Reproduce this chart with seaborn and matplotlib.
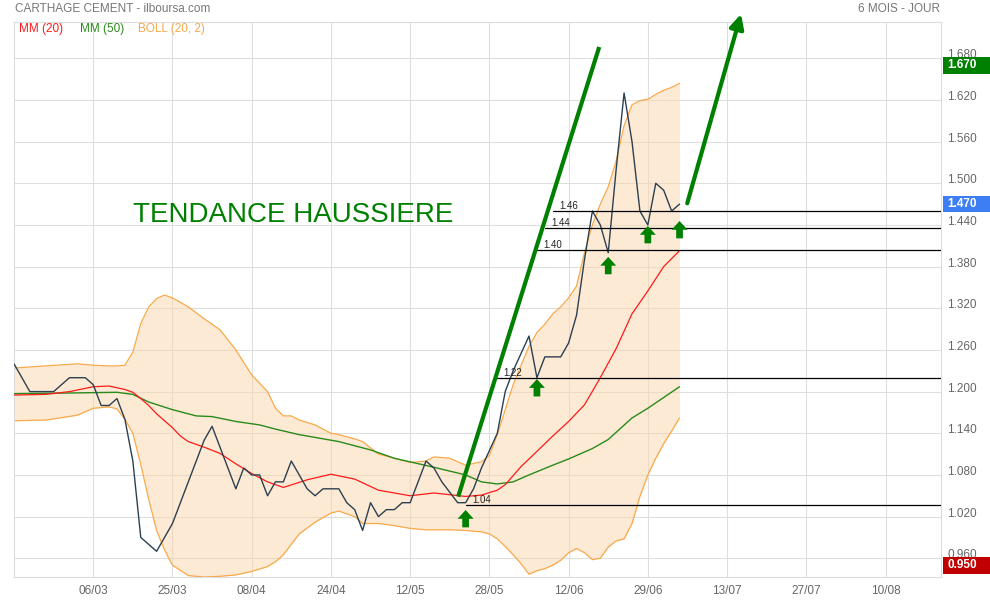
import matplotlib
matplotlib.use('Agg')
import numpy as np
import pandas as pd
import matplotlib.pyplot as plt
import matplotlib.transforms as mtransforms
from matplotlib.patches import Rectangle
import seaborn as sns

# cours de cloture, une valeur par seance
close = [1.24, 1.22, 1.20, 1.20, 1.20, 1.20, 1.21, 1.22, 1.22, 1.22,
         1.21, 1.18, 1.18, 1.19, 1.16, 1.10, 0.99, 0.98, 0.97, 0.99,
         1.01, 1.04, 1.07, 1.10, 1.13, 1.15, 1.12, 1.09, 1.06, 1.09,
         1.08, 1.08, 1.05, 1.07, 1.07, 1.10, 1.08, 1.06, 1.05, 1.06,
         1.06, 1.06, 1.04, 1.03, 1.00, 1.04, 1.02, 1.03, 1.03, 1.04,
         1.04, 1.07, 1.10, 1.09, 1.07, 1.055, 1.04, 1.04, 1.06, 1.09,
         1.115, 1.14, 1.20, 1.23, 1.255, 1.28, 1.22, 1.25, 1.25, 1.25,
         1.27, 1.31, 1.39, 1.46, 1.44, 1.40, 1.52, 1.63, 1.56, 1.46,
         1.44, 1.50, 1.49, 1.46, 1.47]

# MM(20)
mm20_days = [0, 4, 7, 10, 12, 14, 15, 16, 17, 18, 19, 20, 21, 22, 24, 26, 28, 30, 32, 34,
             37, 40, 43, 46, 50, 53, 57, 59, 61, 62, 64, 66, 68, 70, 72, 74, 76, 78, 80, 82, 84]
mm20 = [1.195, 1.196, 1.200, 1.207, 1.208, 1.203, 1.199, 1.190, 1.180, 1.168,
        1.158, 1.148, 1.136, 1.128, 1.120, 1.111, 1.096, 1.082, 1.070, 1.062,
        1.073, 1.081, 1.074, 1.058, 1.050, 1.054, 1.049, 1.051, 1.058, 1.066,
        1.092, 1.114, 1.136, 1.157, 1.181, 1.220, 1.262, 1.312, 1.345, 1.380, 1.403]

# MM(50)
mm50_days = [0, 7, 13, 15, 17, 20, 23, 25, 28, 31, 33, 36, 41, 45, 48, 53, 57, 59, 61, 63,
             65, 68, 70, 73, 75, 78, 80, 84]
mm50 = [1.197, 1.198, 1.199, 1.196, 1.185, 1.174, 1.165, 1.164, 1.157, 1.152,
        1.146, 1.138, 1.128, 1.116, 1.104, 1.091, 1.080, 1.070, 1.067, 1.070,
        1.080, 1.094, 1.103, 1.118, 1.131, 1.162, 1.176, 1.207]

# bandes de Bollinger (20, 2)
boll_days = [0, 4, 8, 10, 12, 13, 14, 15, 16, 17, 18, 19, 20, 22, 24, 26, 28, 30, 32, 33,
             34, 35, 36, 38, 40, 41, 43, 44, 46, 48, 50, 52, 53, 55, 57, 59, 60, 61, 62, 63,
             64, 65, 66, 67, 68, 69, 70, 71, 72, 73, 74, 75, 76, 77, 78, 79, 80, 81, 82, 83, 84]
boll_up = [1.234, 1.237, 1.240, 1.238, 1.237, 1.237, 1.238, 1.257, 1.298, 1.322,
           1.334, 1.339, 1.335, 1.322, 1.305, 1.289, 1.260, 1.224, 1.200, 1.176,
           1.165, 1.165, 1.159, 1.152, 1.140, 1.138, 1.132, 1.128, 1.110, 1.104,
           1.098, 1.100, 1.106, 1.104, 1.094, 1.099, 1.108, 1.138, 1.174, 1.210,
           1.238, 1.265, 1.285, 1.297, 1.312, 1.322, 1.335, 1.352, 1.400, 1.440,
           1.470, 1.495, 1.532, 1.583, 1.613, 1.619, 1.621, 1.628, 1.634, 1.638, 1.644]
boll_low = [1.158, 1.159, 1.166, 1.176, 1.178, 1.175, 1.160, 1.140, 1.095, 1.045,
            1.000, 0.972, 0.950, 0.935, 0.933, 0.934, 0.936, 0.941, 0.948, 0.955,
            0.965, 0.980, 0.995, 1.012, 1.025, 1.028, 1.020, 1.010, 1.010, 1.007,
            1.003, 1.001, 1.001, 1.001, 1.000, 0.998, 0.995, 0.988, 0.977, 0.965,
            0.952, 0.937, 0.942, 0.945, 0.950, 0.957, 0.968, 0.974, 0.968, 0.958,
            0.960, 0.976, 0.985, 0.988, 1.010, 1.049, 1.080, 1.104, 1.125, 1.143, 1.162]

tick_days = [10, 20, 30, 40, 50, 60, 70, 80, 90, 100, 110]
tick_labels = ['06/03', '25/03', '08/04', '24/04', '12/05', '28/05',
               '12/06', '29/06', '13/07', '27/07', '10/08']
y_ticks = [0.96, 1.02, 1.08, 1.14, 1.20, 1.26, 1.32, 1.38, 1.44, 1.50, 1.56, 1.62, 1.68]

# supports traces a la main
support_labels = ['1.04', '1.22', '1.40', '1.44', '1.46']
support_vals = [1.037, 1.219, 1.4035, 1.435, 1.460]
support_start = [57, 61, 66, 67, 68]

# fleches d'achat (pointe)
buy_days = [57, 66, 75, 80, 84]
buy_tips = [1.0295, 1.218, 1.394, 1.4385, 1.4457]

# droites de tendance
trend1_days = [56.06, 73.86]
trend1_vals = [1.0487, 1.6963]
trend2_days = [84.97, 91.76]
trend2_vals = [1.4712, 1.7438]

# etiquettes de droite : plus haut, dernier, plus bas
side_vals = [1.670, 1.470, 0.950]
side_colors = ['#008000', '#3d7ef5', '#c00000']

sns.set_theme(style='white')
plt.rcParams['font.family'] = ['Liberation Sans', 'DejaVu Sans']

fig = plt.figure(figsize=(9.9, 6), dpi=100)
ax = fig.add_axes([14 / 990, 23 / 600, 927 / 990, 555.3 / 600])

days = np.arange(len(close))

# bollinger
ax.fill_between(boll_days, boll_low, boll_up, color='#fbd7ad', alpha=0.5, lw=0, zorder=1)
sns.lineplot(x=boll_days, y=boll_up, ax=ax, color='#f8a94a', lw=0.9, zorder=2)
sns.lineplot(x=boll_days, y=boll_low, ax=ax, color='#f8a94a', lw=0.9, zorder=2)

# moyennes mobiles + cours
sns.lineplot(x=mm50_days, y=mm50, ax=ax, color='#2a8a1a', lw=1.0, zorder=3)
sns.lineplot(x=mm20_days, y=mm20, ax=ax, color='#ff1a1a', lw=0.9, zorder=3)
sns.lineplot(x=days, y=close, ax=ax, color='#2c4050', lw=1.0, zorder=3)

# supports
for lab, v, d0 in zip(support_labels, support_vals, support_start):
    ax.plot([d0, 117], [v, v], color='black', lw=0.9, zorder=4)
    ax.annotate(lab, xy=(d0, v), xytext=(4.5, 1.5), textcoords='offset points',
                fontsize=7, color='#222222', va='baseline', zorder=4)

# fleches vertes
for d, v in zip(buy_days, buy_tips):
    ax.annotate('', xy=(d, v), xytext=(0, -12.5), textcoords='offset points',
                arrowprops=dict(arrowstyle='simple,head_length=0.55,head_width=1.0,tail_width=0.42',
                                mutation_scale=11.5, fc='#008000', ec='none',
                                shrinkA=0, shrinkB=0), zorder=5)

ax.plot(trend1_days, trend1_vals, color='#008000', lw=3, solid_capstyle='butt', zorder=5)
ax.annotate('', xy=(trend2_days[1], trend2_vals[1]), xytext=(trend2_days[0], trend2_vals[0]),
            arrowprops=dict(arrowstyle='-|>,head_length=0.6,head_width=0.3', mutation_scale=14,
                            lw=3, color='#008000', shrinkA=0, shrinkB=0),
            annotation_clip=False, zorder=5)

ax.text(15, 1.454, 'TENDANCE HAUSSIERE', fontsize=20, color='#008000', ha='left', va='center')

# axes
ax.set_xlim(0, 117)
ax.set_ylim(0.933, 1.7327)
ax.set_xticks(tick_days, tick_labels)
ax.set_yticks(y_ticks, ['%.3f' % v for v in y_ticks])
ax.yaxis.tick_right()
ax.tick_params(axis='x', length=0, pad=5.5, labelsize=8.5, labelcolor='#666666')
ax.tick_params(axis='y', length=0, pad=4.5, labelsize=8.5, labelcolor='#666666')
for lab in ax.get_yticklabels():
    lab.set_verticalalignment('baseline')
ax.set_xlabel('')
ax.set_ylabel('')
ax.grid(True, color='#dedede', lw=0.8)
ax.set_axisbelow(True)
for sp in ax.spines.values():
    sp.set_color('#dcdcdc')
    sp.set_linewidth(0.8)

# etiquettes colorees a droite
trans = mtransforms.blended_transform_factory(ax.transAxes, ax.transData)
for v, c in zip(side_vals, side_colors):
    ax.add_patch(Rectangle((1.0018, v - 0.012), 0.052, 0.024, transform=trans,
                           fc=c, ec='none', clip_on=False, zorder=6))
    ax.text(1.0068, v, '%.3f' % v, transform=trans, color='white', fontsize=8.5,
            fontweight='bold', va='center', ha='left', clip_on=False, zorder=7)

# titre et legende
fig.text(15 / 990, 1 - 9 / 600, 'CARTHAGE CEMENT - ilboursa.com', fontsize=8.5,
         color='#777777', va='center', ha='left')
fig.text(940 / 990, 1 - 9 / 600, '6 MOIS - JOUR', fontsize=8.5,
         color='#777777', va='center', ha='right')
fig.text(19 / 990, 1 - 29 / 600, 'MM (20)', fontsize=8.5, color='#ff1a1a', va='center')
fig.text(80 / 990, 1 - 29 / 600, 'MM (50)', fontsize=8.5, color='#2a8a1a', va='center')
fig.text(138 / 990, 1 - 29 / 600, 'BOLL (20, 2)', fontsize=8.5, color='#f8a94a', va='center')

fig.savefig('out.png', dpi=100)
